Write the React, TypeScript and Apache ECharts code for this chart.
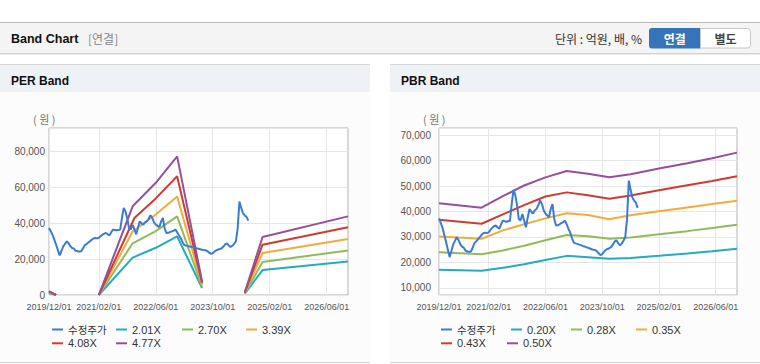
import React, { useEffect, useRef } from 'react';
import * as echarts from 'echarts';

const FONT = "'Liberation Sans', Arial, 'Noto Sans CJK KR', sans-serif";
const KFONT = "'Noto Sans CJK KR', 'Liberation Sans', sans-serif";

// semi-monthly categories 2019/12/01 .. 2026/12/01
const categories: string[] = [];
for (let i = 0; i <= 84; i++) {
  const y = 2019 + Math.floor((11 + i) / 12);
  const m = ((11 + i) % 12) + 1;
  const mm = m < 10 ? '0' + m : '' + m;
  categories.push(`${y}/${mm}/01`);
  if (i < 84) categories.push(`${y}/${mm}/16`);
}

const xTickLabels = ['2019/12/01', '2021/02/01', '2022/06/01', '2023/10/01', '2025/02/01', '2026/06/01'];
const perYTicks = [0, 20000, 40000, 60000, 80000];
const pbrYTicks = [10000, 20000, 30000, 40000, 50000, 60000, 70000];

const priceName = '수정주가';
const perBandNames = ['2.01X', '2.70X', '3.39X', '4.08X', '4.77X'];
const pbrBandNames = ['0.20X', '0.28X', '0.35X', '0.43X', '0.50X'];
const priceColor = '#3a7bd5';
const bandColors = ['#22abc3', '#8fbc5a', '#f4aa3c', '#cf3a31', '#964f9c'];

// adjusted price (semi-monthly from 2019/12/01)
const price = [
  37300, 35500, 33500, 30800, 28000, 25000, 22100, 24500, 27100, 28500,
  29900, 28800, 27200, 26200, 25800, 24600, 24300, 24200, 24300, 25800,
  27600, 28300, 29200, 29900, 30800, 31500, 31700, 31600, 31800, 32800,
  33600, 34200, 34500, 33800, 33200, 35000, 36400, 36200, 36000, 36200,
  36400, 43000, 48500, 46500, 42500, 37000, 36500, 39000, 36500, 33800,
  37500, 41000, 40000, 39200, 40500, 41000, 42500, 44400, 43000, 40500,
  39200, 38500, 37700, 41000, 42900, 37000, 34500, 34600, 35000, 35400,
  35800, 36400, 35000, 33200, 31700, 29500, 27800, 27500, 27300, 27000,
  26800, 26500, 26300, 26000, 25800, 25500, 25200, 25000, 24900, 24400,
  23600, 22900, 23300, 24200, 24900, 25300, 25600, 26000, 27000, 28200,
  28700, 27600, 26700, 27400, 28500, 29900, 37000, 52100, 48500, 45500,
  44300, 43500, 41400,
];

// PER bands: [category index, value]; null breaks the line
const per201: [number, number | null][] = [[0, 900], [4, 0], [5, null], [28, 0], [47, 20800], [60, 26300], [72, 32600], [86, 3900], [87, null], [110, 700], [120, 13900], [168, 18700]];
const per270: [number, number | null][] = [[0, 1200], [4, 0], [5, null], [28, 0], [47, 28800], [60, 35600], [72, 43800], [86, 4600], [87, null], [110, 900], [120, 18400], [168, 24800]];
const per339: [number, number | null][] = [[0, 1600], [4, 0], [5, null], [28, 0], [47, 35400], [60, 44800], [72, 54900], [86, 5700], [87, null], [110, 1100], [120, 23400], [168, 31200]];
const per408: [number, number | null][] = [[0, 1900], [4, 0], [5, null], [28, 0], [48, 42900], [60, 53800], [72, 66100], [86, 6700], [87, null], [110, 1300], [120, 28000], [168, 37700]];
const per477: [number, number | null][] = [[0, 2200], [4, 0], [5, null], [28, 0], [47, 49400], [60, 62500], [72, 77200], [86, 7600], [87, null], [110, 1500], [120, 32300], [168, 43800]];

// PBR bands at key indices
const pbrIdx = [0, 24, 36, 48, 60, 72, 84, 96, 108, 124, 140, 154, 168];
const pbr020 = [17200, 16800, 17900, 19300, 21000, 22600, 22100, 21500, 21800, 22600, 23500, 24400, 25400];
const pbr028 = [24000, 23200, 24700, 26600, 28700, 30800, 30300, 29300, 29800, 31100, 32300, 33500, 34800];
const pbr035 = [30200, 29300, 32600, 35000, 37300, 39300, 38600, 37000, 38500, 40100, 41600, 42900, 44200];
const pbr043 = [36800, 35200, 38900, 42500, 45900, 47500, 46400, 45000, 46300, 48300, 50300, 52000, 53800];
const pbr050 = [43200, 41500, 46000, 50200, 53400, 55900, 54800, 53400, 54600, 56900, 58900, 60900, 63100];

const perBands = [per201, per270, per339, per408, per477];
const pbrBands = [pbr020, pbr028, pbr035, pbr043, pbr050].map((arr) => arr.map((v, i) => [pbrIdx[i], v]));

const showTick = (_i: number, v: string) => xTickLabels.includes(v);

function xAxis(gridIndex: number) {
  return {
    type: 'category', gridIndex, data: categories, boundaryGap: false,
    axisLine: { show: false }, axisTick: { show: false },
    axisLabel: { interval: showTick, fontSize: 9, color: '#555', margin: 7, fontFamily: FONT },
    splitLine: { show: true, interval: showTick, lineStyle: { color: '#e6e6e6', width: 1 } },
  };
}

function legendItem(left: number, top: number, name: string, korean = false) {
  return {
    left, top, orient: 'horizontal', itemGap: 0, itemWidth: 11, itemHeight: 2, icon: 'rect',
    selectedMode: false, padding: 0,
    textStyle: { fontSize: korean ? 10.5 : 11, lineHeight: 12, color: '#333', fontFamily: korean ? KFONT : FONT },
    data: [name],
  };
}

function lineSeries(name: string, data: any, color: string, idx: number, z = 2) {
  return {
    type: 'line', name, data, xAxisIndex: idx, yAxisIndex: idx, showSymbol: false, symbol: 'none',
    connectNulls: false, z, lineStyle: { color, width: 2 }, itemStyle: { color },
  };
}

function panelGraphics(x0: number, title: string) {
  return [
    { type: 'rect', z: -3, shape: { x: x0, y: 92, width: 370, height: 270 }, style: { fill: '#fcfcfc' } },
    { type: 'rect', z: -2, shape: { x: x0, y: 64, width: 370, height: 28 }, style: { fill: '#eef2f7' } },
    { type: 'line', z: -1, shape: { x1: x0, y1: 64.5, x2: x0 + 370, y2: 64.5 }, style: { stroke: '#d9d9d9', lineWidth: 1 } },
    { type: 'line', z: -1, shape: { x1: x0, y1: 362.5, x2: x0 + 370, y2: 362.5 }, style: { stroke: '#d0d0d0', lineWidth: 1 } },
    { type: 'text', x: x0 + 11, y: 80.5, style: { text: title, fill: '#111', font: `bold 12px ${FONT}`, verticalAlign: 'middle' } },
    { type: 'text', x: x0 + 33, y: 118.5, style: { text: '( 원 )', fill: '#777', font: `11px ${KFONT}`, verticalAlign: 'middle' } },
  ];
}

const ROW1 = 323.5;
const ROW2 = 337.3;

export default function App() {
  const ref = useRef<HTMLDivElement>(null);
  useEffect(() => {
    if (!ref.current) return;
    const chart = echarts.init(ref.current, null, { renderer: 'svg' });
    const series: any[] = [];
    series.push(lineSeries(priceName, price, priceColor, 0, 3));
    perBands.forEach((b, i) => series.push(lineSeries(perBandNames[i], b, bandColors[i], 0)));
    series.push(lineSeries(priceName, price, priceColor, 1, 3));
    pbrBands.forEach((b, i) => series.push(lineSeries(pbrBandNames[i], b, bandColors[i], 1)));

    const option: any = {
      animation: false,
      backgroundColor: '#ffffff',
      textStyle: { fontFamily: FONT },
      grid: [
        { left: 49, top: 128, width: 299, height: 167, show: true, borderColor: '#b3b3b3', borderWidth: 1, backgroundColor: '#fff' },
        { left: 439, top: 128, width: 298, height: 167, show: true, borderColor: '#b3b3b3', borderWidth: 1, backgroundColor: '#fff' },
      ],
      xAxis: [xAxis(0), xAxis(1)],
      yAxis: [
        {
          type: 'value', gridIndex: 0, min: 0, max: 93000, interval: 20000,
          axisLine: { show: false }, axisTick: { show: false },
          axisLabel: { fontSize: 10, color: '#555', margin: 4, fontFamily: FONT, formatter: (v: number) => (perYTicks.includes(v) ? v.toLocaleString('en-US') : '') },
          splitLine: { lineStyle: { color: '#e6e6e6' } },
        },
        {
          type: 'value', gridIndex: 1, min: 7250, max: 72750, splitNumber: 7,
          axisLine: { show: false }, axisTick: { show: false },
          axisLabel: { fontSize: 10, color: '#555', margin: 8, fontFamily: FONT, formatter: (v: number) => (pbrYTicks.includes(v) ? v.toLocaleString('en-US') : '') },
          splitLine: { lineStyle: { color: '#e6e6e6' } },
        },
      ],
      legend: [
        legendItem(52, ROW1, priceName, true),
        legendItem(116, ROW1, perBandNames[0]),
        legendItem(182, ROW1, perBandNames[1]),
        legendItem(246, ROW1, perBandNames[2]),
        legendItem(52, ROW2, perBandNames[3]),
        legendItem(116, ROW2, perBandNames[4]),
        legendItem(441, ROW1, priceName, true),
        legendItem(511, ROW1, pbrBandNames[0]),
        legendItem(571, ROW1, pbrBandNames[1]),
        legendItem(636, ROW1, pbrBandNames[2]),
        legendItem(441, ROW2, pbrBandNames[3]),
        legendItem(507, ROW2, pbrBandNames[4]),
      ],
      graphic: {
        elements: [
          { type: 'rect', z: -2, shape: { x: 0, y: 22, width: 760, height: 31 }, style: { fill: '#f4f4f4' } },
          { type: 'line', z: -1, shape: { x1: 0, y1: 22.5, x2: 760, y2: 22.5 }, style: { stroke: '#bcbcbc', lineWidth: 1 } },
          { type: 'line', z: -1, shape: { x1: 0, y1: 53.5, x2: 760, y2: 53.5 }, style: { stroke: '#d2d2d2', lineWidth: 1 } },
          { type: 'line', z: -1, shape: { x1: 0, y1: 54.5, x2: 760, y2: 54.5 }, style: { stroke: '#ebebeb', lineWidth: 1 } },
          { type: 'text', x: 11, y: 38.5, style: { text: 'Band Chart', fill: '#111', font: `bold 12.5px ${FONT}`, verticalAlign: 'middle' } },
          { type: 'text', x: 88, y: 38.5, style: { text: '[연결]', fill: '#888', font: `12px ${KFONT}`, verticalAlign: 'middle' } },
          { type: 'text', x: 642, y: 38.5, style: { text: '단위 : 억원, 배, %', fill: '#333', font: `12px ${KFONT}`, align: 'right', verticalAlign: 'middle' } },
          { type: 'rect', shape: { x: 649, y: 28, width: 51.5, height: 20.5, r: [3, 0, 0, 3] }, style: { fill: '#3674ba' } },
          { type: 'text', x: 674.7, y: 38.5, style: { text: '연결', fill: '#fff', font: `bold 12px ${KFONT}`, align: 'center', verticalAlign: 'middle' } },
          { type: 'rect', shape: { x: 700.5, y: 28.5, width: 50, height: 19.5, r: [0, 3, 3, 0] }, style: { fill: '#fff', stroke: '#c6c6c6', lineWidth: 1 } },
          { type: 'text', x: 725.5, y: 38.5, style: { text: '별도', fill: '#444', font: `bold 12px ${KFONT}`, align: 'center', verticalAlign: 'middle' } },
          ...panelGraphics(0, 'PER Band'),
          ...panelGraphics(390, 'PBR Band'),
        ],
      },
      series,
    };
    chart.setOption(option);
    return () => chart.dispose();
  }, []);
  return <div ref={ref} style={{ position: 'absolute', left: 0, top: 0, width: 760, height: 364 }} />;
}
